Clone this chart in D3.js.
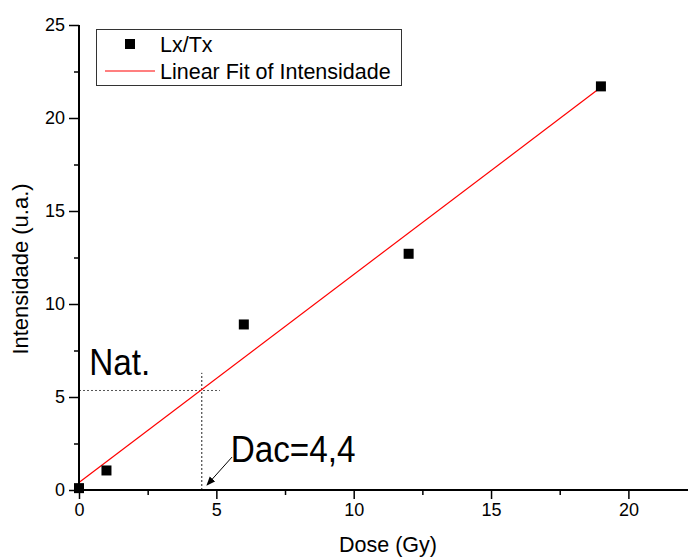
<!DOCTYPE html>
<html>
<head>
<meta charset="utf-8">
<script src="https://cdn.jsdelivr.net/npm/d3@7"></script>
<style>
  body { margin: 0; background: #fff; }
  text { font-family: "Liberation Sans", Arial, sans-serif; fill: #000; }
</style>
</head>
<body>
<script>
// measured points (Lx/Tx)
var doseX = [0, 1, 6, 12, 19]
var lxTx = [0.1, 1.05, 8.9, 12.7, 21.7]
// linear fit end points
var fitX = [0, 19]
var fitY = [0.4, 21.65]
// ticks
var xTicks = [0, 5, 10, 15, 20]
var xMinor = [2.5, 7.5, 12.5, 17.5]
var yTicks = [0, 5, 10, 15, 20, 25]
var yMinor = [2.5, 7.5, 12.5, 17.5, 22.5]
// reading lines for the natural dose
var natY = 5.35, natXEnd = 5.13
var dacX = 4.47, dacYEnd = 6.3

var width = 688, height = 558

var svg = d3.select("body").append("svg")
    .attr("width", width)
    .attr("height", height)

var x = d3.scaleLinear().domain([0, 22.17]).range([79, 688])
var y = d3.scaleLinear().domain([0, 25]).range([490, 25])

// dotted guides
svg.append("line")
    .attr("x1", x(0)).attr("x2", x(natXEnd))
    .attr("y1", y(natY)).attr("y2", y(natY))
    .attr("stroke", "#555").attr("stroke-width", 1)
    .attr("stroke-dasharray", "2,2")
svg.append("line")
    .attr("x1", x(dacX)).attr("x2", x(dacX))
    .attr("y1", y(0)).attr("y2", y(dacYEnd))
    .attr("stroke", "#222").attr("stroke-width", 1)
    .attr("stroke-dasharray", "2,2")

// fit line
svg.append("line")
    .attr("x1", x(fitX[0])).attr("y1", y(fitY[0]))
    .attr("x2", x(fitX[1])).attr("y2", y(fitY[1]))
    .attr("stroke", "#f00").attr("stroke-width", 1.2)

// points
svg.append("g")
    .selectAll("rect")
    .data(doseX)
    .enter()
    .append("rect")
    .attr("x", function (d) { return x(d) - 5 })
    .attr("y", function (d, i) { return y(lxTx[i]) - 5 })
    .attr("width", 10)
    .attr("height", 10)
    .attr("fill", "#000")

// x axis
var xAxis = svg.append("g").attr("transform", "translate(0," + y(0) + ")")
xAxis.call(d3.axisBottom(x).tickValues(xTicks).tickSize(9).tickPadding(4).tickFormat(d3.format("d")))
xAxis.append("g").call(d3.axisBottom(x).tickValues(xMinor).tickSize(5).tickFormat(""))
xAxis.selectAll(".domain").remove()
xAxis.append("line").attr("x1", x(0) - 1).attr("x2", 688).attr("stroke", "#000").attr("stroke-width", 2)

// y axis
var yAxis = svg.append("g").attr("transform", "translate(" + x(0) + ",0)")
yAxis.call(d3.axisLeft(y).tickValues(yTicks).tickSize(10).tickPadding(4).tickFormat(d3.format("d")))
yAxis.append("g").call(d3.axisLeft(y).tickValues(yMinor).tickSize(5).tickFormat(""))
yAxis.selectAll(".domain").remove()
yAxis.append("line").attr("y1", y(25)).attr("y2", y(0) + 1).attr("stroke", "#000").attr("stroke-width", 2)

svg.selectAll(".tick line").attr("stroke", "#000").attr("stroke-width", 1.5)
svg.selectAll(".tick text")
    .style("font-family", "'Liberation Sans', Arial, sans-serif")
    .style("font-size", "18px")
    .attr("fill", "#000")

// axis titles
svg.append("text")
    .attr("x", 388).attr("y", 552)
    .attr("text-anchor", "middle")
    .style("font-size", "21.5px")
    .text("Dose (Gy)")
svg.append("text")
    .attr("transform", "translate(28,269) rotate(-90)")
    .attr("text-anchor", "middle")
    .style("font-size", "22px")
    .text("Intensidade (u.a.)")

// annotations (slightly narrowed like the original)
svg.append("text")
    .attr("transform", "translate(" + x(0.37) + "," + y(6.18) + ") scale(0.9,1)")
    .style("font-size", "37px")
    .text("Nat.")
svg.append("text")
    .attr("transform", "translate(" + x(5.52) + "," + y(1.48) + ") scale(0.9,1)")
    .style("font-size", "37px")
    .text("Dac=4,4")

svg.append("defs").append("marker")
    .attr("id", "arrow")
    .attr("viewBox", "0 0 10 10")
    .attr("refX", 9).attr("refY", 5)
    .attr("markerWidth", 9).attr("markerHeight", 9)
    .attr("markerUnits", "userSpaceOnUse")
    .attr("orient", "auto")
    .append("path")
    .attr("d", "M0,1 L10,5 L0,9 Z")
    .attr("fill", "#000")
svg.append("line")
    .attr("x1", x(5.57)).attr("y1", y(1.77))
    .attr("x2", x(4.66)).attr("y2", y(0.27))
    .attr("stroke", "#000").attr("stroke-width", 1)
    .attr("marker-end", "url(#arrow)")

// legend
var legend = svg.append("g")
legend.append("rect")
    .attr("x", 96.5).attr("y", 29.5)
    .attr("width", 305).attr("height", 56)
    .attr("fill", "#fff").attr("stroke", "#333").attr("stroke-width", 1)
legend.append("rect")
    .attr("x", 125).attr("y", 39).attr("width", 10).attr("height", 10)
    .attr("fill", "#000")
legend.append("text")
    .attr("x", 160).attr("y", 52)
    .style("font-size", "21.5px")
    .text("Lx/Tx")
legend.append("line")
    .attr("x1", 105).attr("x2", 155).attr("y1", 71).attr("y2", 71)
    .attr("stroke", "#f00").attr("stroke-width", 1.2)
legend.append("text")
    .attr("x", 160).attr("y", 79)
    .style("font-size", "21.5px")
    .text("Linear Fit of Intensidade")
</script>
</body>
</html>
